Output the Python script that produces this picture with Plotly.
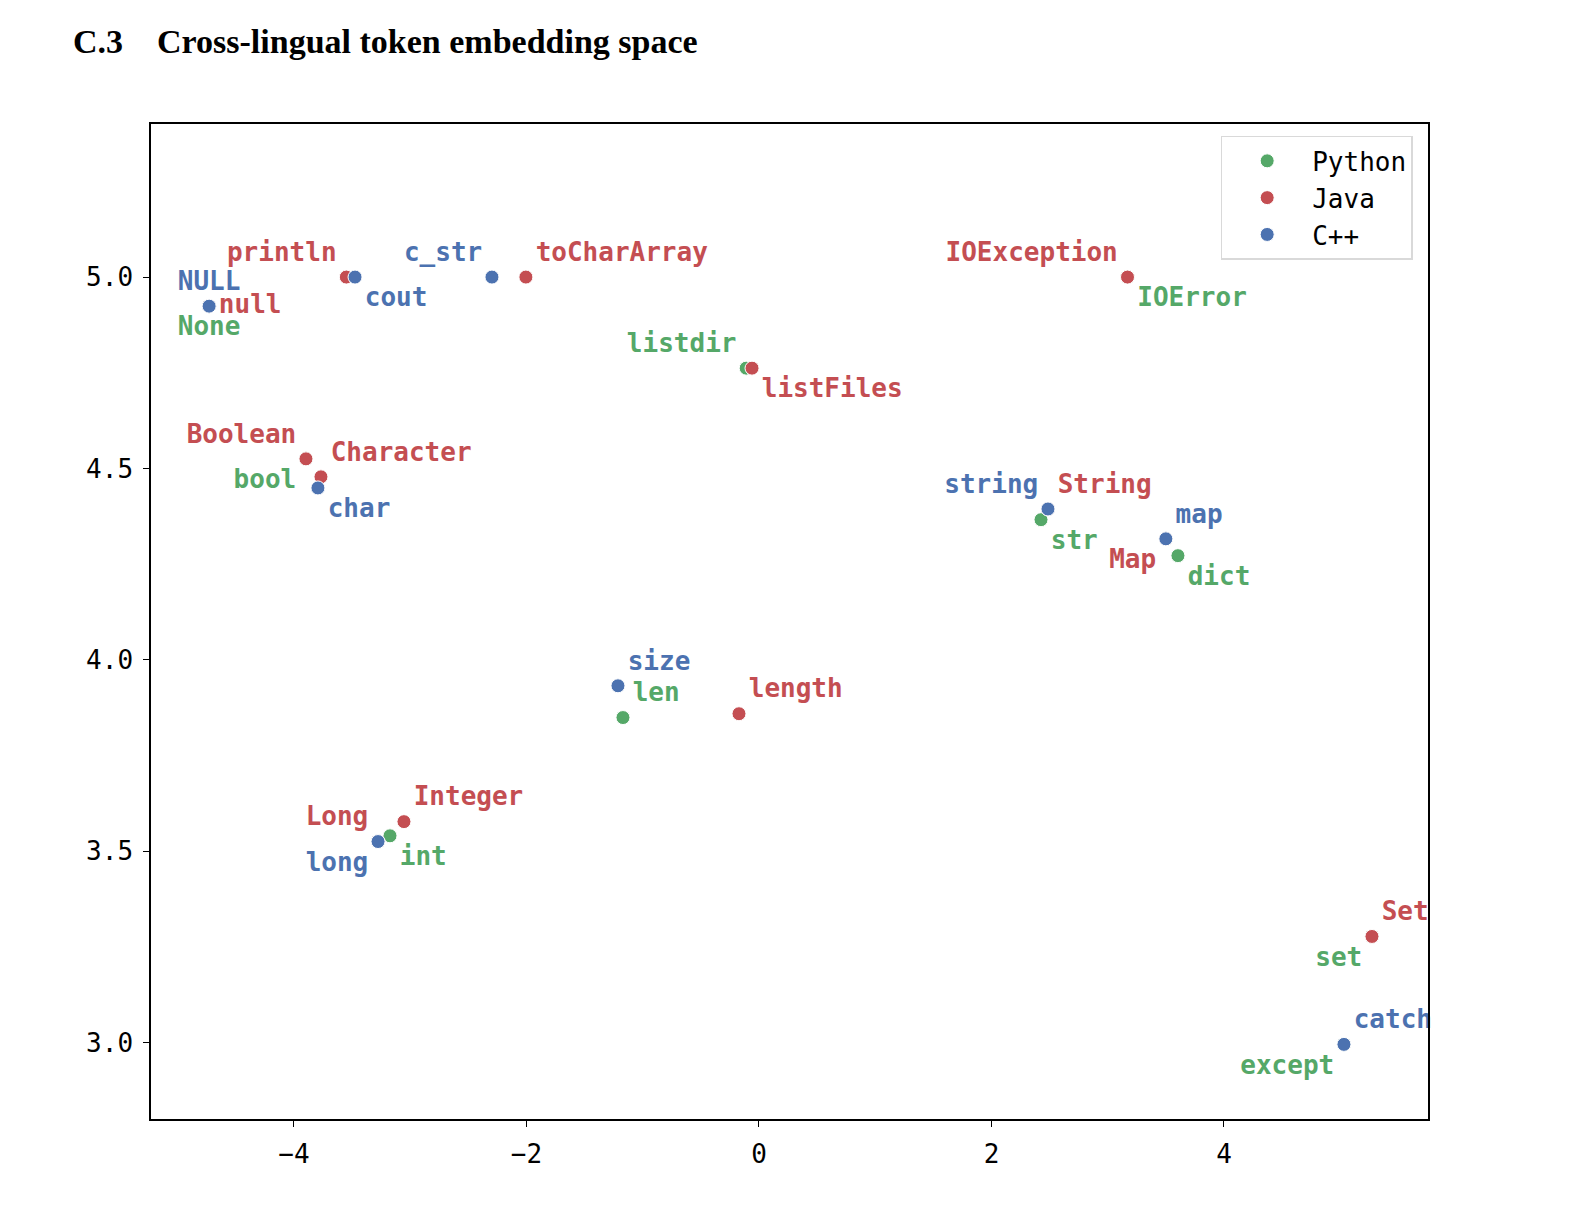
import plotly.graph_objects as go

# token embedding coordinates
py_tokens = ['None', 'bool', 'listdir', 'IOError', 'str', 'dict', 'len', 'int', 'set', 'except']
py_x = [-4.73, -3.897, -0.11, 3.17, 2.426, 3.604, -1.17, -3.174, 5.273, 5.032]
py_y = [4.924, 4.525, 4.762, 5.0, 4.366, 4.272, 3.849, 3.540, 3.277, 2.995]
py_pos = ['bottom center', 'bottom left', 'top left', 'bottom right', 'bottom right',
          'bottom right', 'top right', 'bottom right', 'bottom left', 'bottom left']

java_tokens = ['println', 'null', 'toCharArray', 'IOException', 'listFiles', 'Boolean',
               'Character', 'String', 'Map', 'length', 'Integer', 'Long', 'Set']
java_x = [-3.55, -4.73, -2.005, 3.17, -0.06, -3.897, -3.768, 2.486, 3.50, -0.172, -3.054, -3.277, 5.273]
java_y = [5.0, 4.924, 5.0, 5.0, 4.762, 4.525, 4.478, 4.394, 4.316, 3.859, 3.577, 3.525, 3.277]
java_pos = ['top left', 'middle right', 'top right', 'top left', 'bottom right', 'top left',
            'top right', 'top right', 'bottom left', 'top right', 'top right', 'top left', 'top right']

cpp_tokens = ['NULL', 'cout', 'c_str', 'char', 'string', 'map', 'size', 'long', 'catch']
cpp_x = [-4.73, -3.475, -2.297, -3.794, 2.486, 3.50, -1.213, -3.277, 5.032]
cpp_y = [4.924, 5.0, 5.0, 4.449, 4.394, 4.316, 3.932, 3.525, 2.995]
cpp_pos = ['top center', 'bottom right', 'top left', 'bottom right', 'top left',
           'top right', 'top right', 'bottom left', 'top right']

GREEN = '#55A868'
RED = '#C44E52'
BLUE = '#4C72B0'
MONO = 'DejaVu Sans Mono'

fig = go.Figure()
for name, xs, ys, toks, pos, color in [('Python', py_x, py_y, py_tokens, py_pos, GREEN),
                                      ('Java', java_x, java_y, java_tokens, java_pos, RED),
                                      ('C++', cpp_x, cpp_y, cpp_tokens, cpp_pos, BLUE)]:
    fig.add_trace(go.Scatter(
        x=xs, y=ys, text=toks, name=name,
        mode='markers+text',
        textposition=pos,
        cliponaxis=False,
        textfont=dict(family=MONO, size=26, color=color, weight='bold'),
        marker=dict(color=color, size=14, line=dict(color='white', width=1)),
    ))

axis_style = dict(showgrid=False, zeroline=False, showline=True, linecolor='black', linewidth=1.5,
                  mirror=True, ticks='outside', ticklen=6, tickwidth=1.2, tickcolor='black',
                  ticklabelstandoff=5,
                  tickfont=dict(family=MONO, size=26, color='black'))

fig.update_layout(
    width=1570, height=1210,
    paper_bgcolor='white', plot_bgcolor='white',
    margin=dict(l=143, r=150, t=116, b=99),
    title=dict(text='C.3\u00a0\u00a0\u00a0\u00a0Cross-lingual token embedding space',
               x=65 / 1570, xanchor='left', xref='container', y=1 - 33 / 1210, yanchor='middle',
               font=dict(family='Liberation Serif', size=34, color='black', weight='bold')),
    xaxis=dict(range=[-5.23, 5.755], tickvals=[-4, -2, 0, 2, 4], **axis_style),
    yaxis=dict(range=[2.80, 5.40], tickvals=[3.0, 3.5, 4.0, 4.5, 5.0], tickformat='.1f', **axis_style),
    legend=dict(x=0.988, y=0.988, xanchor='right', yanchor='top',
                bgcolor='white', bordercolor='#d9d9d9', borderwidth=1.5,
                itemwidth=80,
                font=dict(family=MONO, size=26, color='black'), itemsizing='trace'),
    showlegend=True,
)

fig.write_html("out.html")
